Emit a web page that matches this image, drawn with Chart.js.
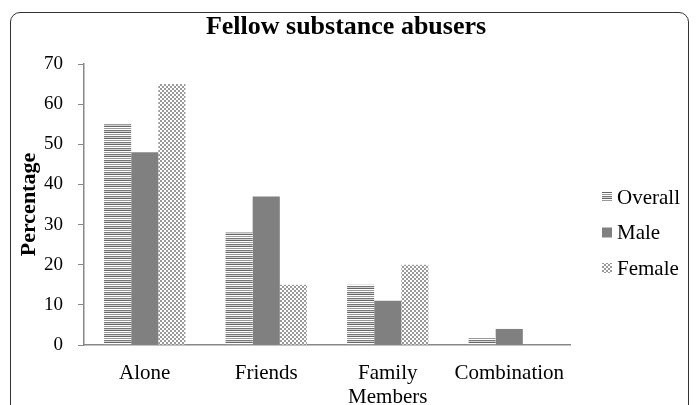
<!DOCTYPE html>
<html>
<head>
<meta charset="utf-8">
<script src="https://cdn.jsdelivr.net/npm/chart.js@4"></script>
<style>
  html, body { margin: 0; padding: 0; background: #fff; overflow: hidden; }
  #wrap { position: relative; width: 697px; height: 405px; }
  #frame {
    position: absolute; left: 10px; top: 12px; width: 679px; height: 430px;
    border: 1.5px solid #333; border-radius: 10px; box-sizing: border-box;
  }
  canvas { position: absolute; left: 0; top: 0; }
</style>
</head>
<body>
<div id="wrap">
  <div id="frame"></div>
  <canvas id="chart" width="697" height="405"></canvas>
</div>
<script>
// ── DATA ──────────────────────────────────────────
const categories = ['Alone', 'Friends', ['Family', 'Members'], 'Combination'];
const seriesNames = ['Overall', 'Male', 'Female'];
const overall = [55, 28, 15, 2];
const male    = [48, 37, 11, 4];
const female  = [65, 15, 20, 0];
const yTicks  = [0, 10, 20, 30, 40, 50, 60, 70];
const chartTitle = 'Fellow substance abusers';

const SERIF = '"Liberation Serif", "Times New Roman", serif';

// ── PATTERNS ──────────────────────────────────────
function stripes() {
  const rows = ['#666', '#fff', '#999', '#fff', '#777', '#d4d4d4'];
  const c = document.createElement('canvas');
  c.width = 4; c.height = rows.length;
  const g = c.getContext('2d');
  rows.forEach((col, i) => { g.fillStyle = col; g.fillRect(0, i, 4, 1); });
  return g.createPattern(c, 'repeat');
}

function checker() {
  const c = document.createElement('canvas');
  c.width = 4; c.height = 4;
  const g = c.getContext('2d');
  g.fillStyle = '#fff'; g.fillRect(0, 0, 4, 4);
  g.fillStyle = '#9a9a9a';
  g.fillRect(0, 0, 2, 2); g.fillRect(2, 2, 2, 2);
  return g.createPattern(c, 'repeat');
}

const fills = [stripes(), '#808080', checker()];

// ── TITLE + LEGEND (placed as in the original) ───
const decorations = {
  id: 'decorations',
  afterDraw(chart) {
    const ctx = chart.ctx;
    ctx.save();

    // title, centred on the whole frame
    ctx.font = 'bold 26px ' + SERIF;
    ctx.fillStyle = '#000';
    ctx.textAlign = 'center';
    ctx.textBaseline = 'middle';
    ctx.fillText(chartTitle, 346, 27);

    // legend
    const x = chart.chartArea.right + 32;
    ctx.font = '21px ' + SERIF;
    ctx.textAlign = 'left';
    chart.data.datasets.forEach((ds, i) => {
      const y = 197 + i * 35.5;
      ctx.fillStyle = ds.backgroundColor;
      ctx.fillRect(x, y - 5, 10, 10);
      ctx.fillStyle = '#000';
      ctx.fillText(ds.label, x + 15, y + 1);
    });
    ctx.restore();
  }
};

// ── CHART ─────────────────────────────────────────
new Chart(document.getElementById('chart'), {
  type: 'bar',
  data: {
    labels: categories,
    datasets: [overall, male, female].map((d, i) => ({
      label: seriesNames[i],
      data: d,
      backgroundColor: fills[i],
      borderWidth: 0,
      categoryPercentage: 0.67,
      barPercentage: 1
    }))
  },
  options: {
    responsive: false,
    animation: false,
    devicePixelRatio: 1,
    layout: { padding: { top: 64, left: 16, right: 127, bottom: 0 } },
    plugins: {
      legend: { display: false },
      tooltip: { enabled: false },
      title: { display: false }
    },
    scales: {
      x: {
        grid: { display: false },
        border: { color: '#888', width: 1.5 },
        ticks: {
          color: '#000', padding: 8, maxRotation: 0,
          font: { family: SERIF, size: 21, lineHeight: 1.15 }
        },
        afterFit: s => { s.height = 60; }
      },
      y: {
        min: 0, max: 70,
        afterBuildTicks: s => { s.ticks = yTicks.map(v => ({ value: v })); },
        grid: { drawOnChartArea: false, tickLength: 6, color: '#888' },
        border: { color: '#888', width: 1.5 },
        ticks: { color: '#000', padding: 15, font: { family: SERIF, size: 19 } },
        title: {
          display: true, text: 'Percentage', color: '#000',
          font: { family: SERIF, size: 22, weight: 'bold' },
          padding: { top: 0, bottom: 0 }
        },
        afterFit: s => { s.width = 68; }
      }
    }
  },
  plugins: [decorations]
});
</script>
</body>
</html>
